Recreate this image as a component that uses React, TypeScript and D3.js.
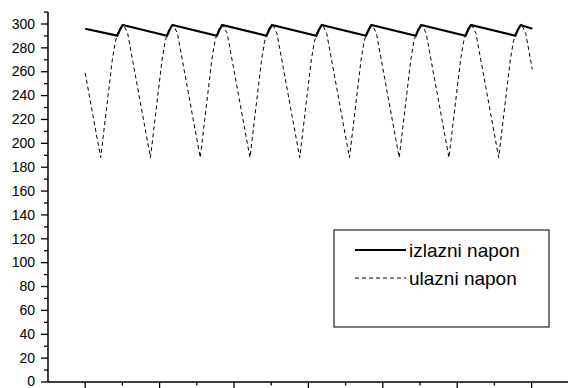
import React from "react";
import * as d3 from "d3";

// ulazni napon (input voltage) – dashed
const tIn = [
  1.0, 1.21,
  1.417, 1.729, 1.809, 1.863, 1.928, 1.995, 2.062, 2.143,
  2.754, 3.066, 3.146, 3.2, 3.265, 3.332, 3.399, 3.48,
  4.092, 4.404, 4.484, 4.538, 4.603, 4.67, 4.737, 4.818,
  5.429, 5.741, 5.821, 5.875, 5.94, 6.007, 6.074, 6.155,
  6.767, 7.079, 7.159, 7.213, 7.278, 7.345, 7.412, 7.493,
  8.104, 8.416, 8.496, 8.55, 8.615, 8.682, 8.749, 8.83,
  9.441, 9.753, 9.833, 9.887, 9.952, 10.019, 10.086, 10.167,
  10.779, 11.091, 11.171, 11.225, 11.29, 11.357, 11.424, 11.505,
  12.116, 12.428, 12.508, 12.562, 12.627, 12.694, 12.761, 12.842,
  13.02,
];
const vIn = [
  259, 223,
  188, 270, 285, 291, 296, 299, 297.5, 292,
  188, 270, 285, 291, 296, 299, 297.5, 292,
  188, 270, 285, 291, 296, 299, 297.5, 292,
  188, 270, 285, 291, 296, 299, 297.5, 292,
  188, 270, 285, 291, 296, 299, 297.5, 292,
  188, 270, 285, 291, 296, 299, 297.5, 292,
  188, 270, 285, 291, 296, 299, 297.5, 292,
  188, 270, 285, 291, 296, 299, 297.5, 292,
  188, 270, 285, 291, 296, 299, 297.5, 292,
  262,
];

// izlazni napon (output voltage) – solid
const tOut = [
  1.0,
  1.863, 1.93, 2.008,
  3.2, 3.267, 3.345,
  4.538, 4.605, 4.683,
  5.875, 5.942, 6.02,
  7.213, 7.28, 7.358,
  8.55, 8.617, 8.695,
  9.887, 9.954, 10.032,
  11.225, 11.292, 11.37,
  12.562, 12.629, 12.707,
  13.02,
];
const vOut = [
  296,
  290.2, 295, 299.2,
  290.2, 295, 299.2,
  290.2, 295, 299.2,
  290.2, 295, 299.2,
  290.2, 295, 299.2,
  290.2, 295, 299.2,
  290.2, 295, 299.2,
  290.2, 295, 299.2,
  290.2, 295, 299.2,
  296,
];

const yTickLabels = [0, 20, 40, 60, 80, 100, 120, 140, 160, 180, 200, 220, 240, 260, 280, 300];
const yMinorTicks = [10, 30, 50, 70, 90, 110, 130, 150, 170, 190, 210, 230, 250, 270, 290, 310];
const xMajorTicks = [1, 3, 5, 7, 9, 11, 13];
const xMinorTicks = [2, 4, 6, 8, 10, 12];
const legendLabels = ["izlazni napon", "ulazni napon"];

const W = 568;
const H = 388;
const FONT = "'Liberation Sans', Arial, sans-serif";

export default function App() {
  const x = d3.scaleLinear().domain([0, 14]).range([48, 568.8]);
  const y = d3.scaleLinear().domain([0, 300]).range([382, 24]);

  const line = d3
    .line<[number, number]>()
    .x((d) => x(d[0]))
    .y((d) => y(d[1]));

  const inPts = tIn.map((t, i) => [t, vIn[i]] as [number, number]);
  const outPts = tOut.map((t, i) => [t, vOut[i]] as [number, number]);

  const legX = 334;
  const legY = 230;
  const legW = 215;
  const legH = 97;
  const rowY = [250, 278];

  return (
    <svg
      width={W}
      height={H}
      style={{ position: "absolute", left: 0, top: 0, background: "#fff" }}
      fontFamily={FONT}
    >
      <rect x={0} y={0} width={W} height={H} fill="#fff" />
      {/* series */}
      <path
        d={line(inPts) || ""}
        fill="none"
        stroke="#000"
        strokeWidth={1}
        strokeDasharray="4,3"
      />
      <path
        d={line(outPts) || ""}
        fill="none"
        stroke="#000"
        strokeWidth={2.2}
        strokeLinejoin="miter"
      />

      {/* y axis */}
      <line x1={x(0)} x2={x(0)} y1={y(310)} y2={y(0)} stroke="#000" strokeWidth={1.5} />
      {yTickLabels.map((v) => (
        <g key={"yl" + v}>
          <line x1={x(0) - 7} x2={x(0)} y1={y(v)} y2={y(v)} stroke="#000" strokeWidth={1.3} />
          <text
            x={35}
            y={y(v)}
            dy={v === 0 ? "0.28em" : "0.34em"}
            textAnchor="end"
            fontSize={14}
            fill="#000"
          >
            {v}
          </text>
        </g>
      ))}
      {yMinorTicks.map((v) => (
        <line
          key={"ym" + v}
          x1={x(0) - 4}
          x2={x(0)}
          y1={y(v)}
          y2={y(v)}
          stroke="#000"
          strokeWidth={1.3}
        />
      ))}

      {/* x axis */}
      <line x1={x(0)} x2={W} y1={y(0)} y2={y(0)} stroke="#000" strokeWidth={1.5} />
      {xMajorTicks.map((t) => (
        <line key={"xM" + t} x1={x(t)} x2={x(t)} y1={y(0)} y2={y(0) + 6} stroke="#000" strokeWidth={1.3} />
      ))}
      {xMinorTicks.map((t) => (
        <line key={"xm" + t} x1={x(t)} x2={x(t)} y1={y(0)} y2={y(0) + 3.5} stroke="#000" strokeWidth={1.3} />
      ))}

      {/* legend */}
      <rect x={legX} y={legY} width={legW} height={legH} fill="#fff" stroke="#222" strokeWidth={1.2} />
      <line x1={355} x2={406} y1={rowY[0]} y2={rowY[0]} stroke="#000" strokeWidth={2.2} />
      <line x1={355} x2={406} y1={rowY[1]} y2={rowY[1]} stroke="#000" strokeWidth={1} strokeDasharray="4,3" />
      {legendLabels.map((l, i) => (
        <text key={l} x={409} y={rowY[i]} dy="0.36em" fontSize={19} fill="#000">
          {l}
        </text>
      ))}
    </svg>
  );
}
